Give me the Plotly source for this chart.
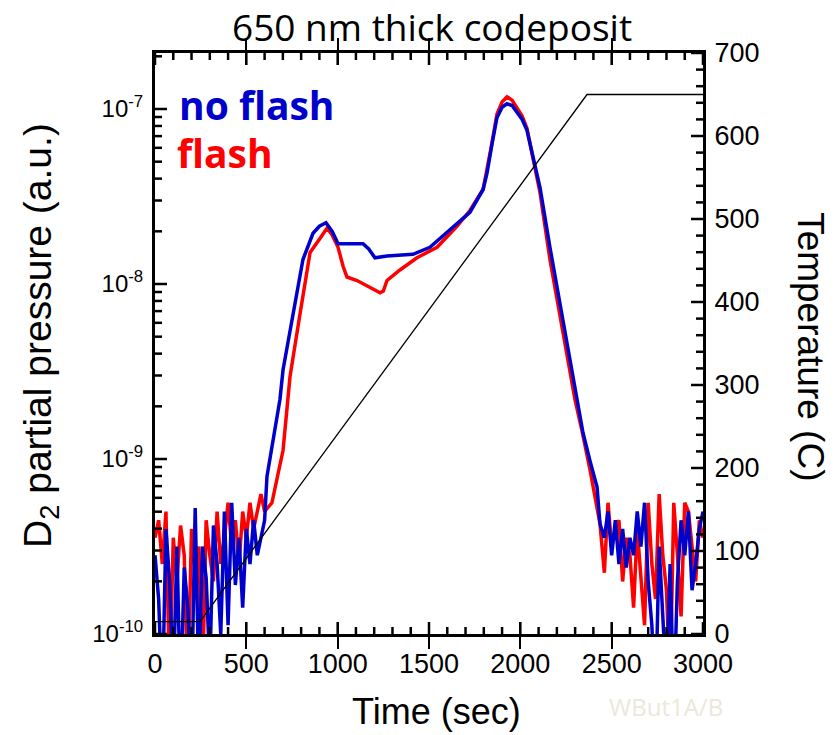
import plotly.graph_objects as go

# ---------------- data ----------------
# Time axis samples (s) and log10 of D2 partial pressure (a.u.)
t_noise_left = [0, 20, 40, 60, 80, 100, 120, 140, 160, 180, 200, 220, 240, 260, 280,
                300, 320, 340, 360, 380, 400, 420, 440, 460, 480, 500, 520, 540, 560, 580]
t_noise_right = [2460, 2480, 2500, 2520, 2540, 2560, 2580, 2600, 2620, 2640, 2660, 2680, 2700, 2720,
                 2740, 2760, 2780, 2800, 2820, 2840, 2860, 2880, 2900, 2920, 2940, 2960, 2980, 3000]

noflash_left = [-9.55, -9.80, -10.4, -9.40, -9.70, -10.3, -9.50, -10.4, -9.62, -9.85, -10.4, -9.28, -10.3, -9.50, -9.68,
                -10.2, -9.38, -9.60, -10.0, -9.30, -9.95, -9.25, -9.72, -9.45, -9.85, -9.40, -9.60, -9.35, -9.55, -9.45]
flash_left = [-9.45, -9.35, -9.60, -9.30, -10.3, -9.45, -9.70, -9.38, -9.55, -10.3, -9.40, -9.65, -9.50, -10.3, -9.35,
              -9.55, -9.70, -9.30, -9.60, -9.45, -9.25, -9.50, -9.35, -9.60, -9.30, -9.45, -9.25, -9.40, -9.30, -9.20]

noflash_right = [-9.45, -9.30, -9.55, -9.35, -9.60, -9.40, -9.62, -9.45, -9.55, -9.30, -9.50, -9.25, -9.70, -9.95,
                 -10.4, -9.50, -9.85, -10.3, -9.60, -10.4, -9.70, -9.35, -9.55, -9.30, -9.75, -9.60, -9.40, -9.30]
flash_right = [-9.65, -9.25, -9.50, -9.40, -9.35, -9.70, -9.45, -9.55, -9.85, -9.40, -9.70, -9.95, -9.25, -9.60,
               -9.80, -9.20, -9.55, -9.75, -10.3, -9.25, -9.55, -9.90, -9.25, -9.30, -9.50, -9.70, -9.35, -9.45]

t_noflash_main = [600, 613, 646, 684, 701, 755, 810, 865, 900, 936, 970, 1002, 1139, 1170, 1204, 1270, 1412,
                  1505, 1615, 1724, 1796, 1817, 1845, 1872, 1900, 1927, 1955, 1982, 2010, 2036, 2069, 2108,
                  2162, 2230, 2310, 2343, 2381, 2420, 2436]
noflash_main = [-9.35, -9.10, -8.89, -8.66, -8.49, -8.17, -7.86, -7.71, -7.67, -7.65, -7.70, -7.77, -7.77, -7.80,
                -7.85, -7.84, -7.83, -7.79, -7.69, -7.59, -7.46, -7.37, -7.20, -7.05, -6.99, -6.97, -6.98, -7.02,
                -7.06, -7.12, -7.27, -7.45, -7.79, -8.18, -8.66, -8.85, -9.01, -9.16, -9.37]

t_flash_main = [600, 640, 701, 739, 794, 849, 903, 942, 970, 1002, 1030, 1051, 1106, 1177, 1232, 1250, 1270,
                1341, 1434, 1544, 1653, 1724, 1796, 1840, 1872, 1900, 1927, 1955, 1982, 2010, 2036, 2070,
                2108, 2162, 2230, 2299, 2340, 2381, 2436]
flash_main = [-9.30, -9.25, -8.95, -8.53, -8.17, -7.82, -7.74, -7.68, -7.72, -7.79, -7.90, -7.96, -7.98, -8.02,
              -8.05, -8.04, -7.98, -7.92, -7.85, -7.79, -7.67, -7.58, -7.46, -7.22, -7.03, -6.96, -6.93, -6.95,
              -6.99, -7.04, -7.11, -7.28, -7.48, -7.86, -8.25, -8.66, -8.85, -9.06, -9.37]

# Temperature ramp (C)
t_temp = [0, 246, 2365, 3000]
temp = [15, 15, 650, 650]

# axis ranges and tick values
X_RANGE = [0, 3000]
P_RANGE = [-10, -6.68]          # log10 range of the pressure axis
T_RANGE = [0, 700]
x_tickvals = [0, 500, 1000, 1500, 2000, 2500, 3000]
p_tickvals = [1e-10, 1e-9, 1e-8, 1e-7]
p_ticktext = ["10<sup>-10</sup>", "10<sup>-9</sup>", "10<sup>-8</sup>", "10<sup>-7</sup>"]
t_tickvals = [0, 100, 200, 300, 400, 500, 600, 700]

# ---------------- build ----------------
t_noflash = t_noise_left + t_noflash_main + t_noise_right
p_noflash = [10 ** v for v in noflash_left + noflash_main + noflash_right]
t_flash = t_noise_left + t_flash_main + t_noise_right
p_flash = [10 ** v for v in flash_left + flash_main + flash_right]

BLUE = "#0000cc"
RED = "#ff0000"
ARIAL = "Liberation Sans, Arial, sans-serif"
XTICKFONT = dict(family=ARIAL, size=27, color="black")
YTICKFONT = dict(family=ARIAL, size=24, color="black")

# plot-area size in px (figure size minus margins) -> tick lengths in data units
W, H, ML, MR, MT, MB = 837, 735, 155, 134, 53, 101
PW, PH = W - ML - MR, H - MT - MB
sx = (X_RANGE[1] - X_RANGE[0]) / PW       # seconds per px
st = (T_RANGE[1] - T_RANGE[0]) / PH       # degrees per px
MAJ, MIN = 12, 7

x_minor = [v for v in range(0, 3001, 100) if v not in x_tickvals]
p_minor = [k * 10.0 ** e for e in range(-10, -6) for k in range(2, 10)]
t_minor = [v for v in range(0, 701, 20) if v not in t_tickvals]


def x_ticks(vals, ln):
    xs, ys = [], []
    for v in vals:
        xs += [v, v, None, v, v, None]
        ys += [T_RANGE[0], T_RANGE[0] + ln * st, None, T_RANGE[1], T_RANGE[1] - ln * st, None]
    return xs, ys


def left_ticks(vals, ln):
    xs, ys = [], []
    for v in vals:
        xs += [X_RANGE[0], X_RANGE[0] + ln * sx, None]
        ys += [v, v, None]
    return xs, ys


def right_ticks(vals, ln):
    xs, ys = [], []
    for v in vals:
        xs += [X_RANGE[1], X_RANGE[1] - ln * sx, None]
        ys += [v, v, None]
    return xs, ys


fig = go.Figure()
fig.add_trace(go.Scatter(x=t_flash, y=p_flash, mode="lines", line=dict(color=RED, width=3.5),
                         name="flash", showlegend=False))
fig.add_trace(go.Scatter(x=t_noflash, y=p_noflash, mode="lines", line=dict(color=BLUE, width=3.5),
                         name="no flash", showlegend=False))
fig.add_trace(go.Scatter(x=t_temp, y=temp, mode="lines", line=dict(color="black", width=1.3),
                         yaxis="y2", name="Temperature", showlegend=False))

# inward tick marks
for (fx, vals, ln, yax) in [(x_ticks, x_tickvals, MAJ, "y2"), (x_ticks, x_minor, MIN, "y2"),
                            (left_ticks, p_tickvals, MAJ, "y"), (left_ticks, p_minor, MIN, "y"),
                            (right_ticks, t_tickvals, MAJ, "y2"), (right_ticks, t_minor, MIN, "y2")]:
    xs, ys = fx(vals, ln)
    fig.add_trace(go.Scatter(x=xs, y=ys, mode="lines", yaxis=yax, line=dict(color="#000000", width=2.5),
                             connectgaps=False, hoverinfo="skip", showlegend=False))

fig.update_layout(
    template="none",
    width=W, height=H,
    margin=dict(l=ML, r=MR, t=MT, b=MB),
    paper_bgcolor="white", plot_bgcolor="white",
    showlegend=False,
    xaxis=dict(range=X_RANGE, tickvals=x_tickvals, ticks="inside", ticklen=MAJ, tickwidth=2,
               tickcolor="black", layer="above traces",
               showline=True, linewidth=3, linecolor="black", mirror="allticks",
               showgrid=False, zeroline=False, tickfont=XTICKFONT, ticklabelstandoff=4),
    yaxis=dict(type="log", range=P_RANGE, tickvals=p_tickvals, ticktext=p_ticktext,
               ticks="inside", ticklen=MAJ, tickwidth=2, tickcolor="black", layer="above traces",
               showline=True, linewidth=3, linecolor="black",
               showgrid=False, zeroline=False, tickfont=YTICKFONT, ticklabelstandoff=4),
    yaxis2=dict(overlaying="y", side="right", range=T_RANGE, tickvals=t_tickvals,
                ticks="inside", ticklen=MAJ, tickwidth=2, tickcolor="black", layer="above traces",
                showline=True, linewidth=3, linecolor="black",
                showgrid=False, zeroline=False, tickfont=XTICKFONT, ticklabelstandoff=3),
    annotations=[
        dict(text="650 nm thick codeposit", xref="paper", yref="paper", x=0.505, y=1.0, yshift=27,
             xanchor="center", yanchor="middle", showarrow=False,
             font=dict(family="Open Sans, sans-serif", size=37, color="black")),
        dict(text="<b>no flash</b>", xref="paper", yref="paper", x=0.04, y=0.9105, xanchor="left",
             yanchor="middle", showarrow=False, font=dict(family="Open Sans, sans-serif", size=39, color=BLUE)),
        dict(text="<b>flash</b>", xref="paper", yref="paper", x=0.037, y=0.828, xanchor="left",
             yanchor="middle", showarrow=False, font=dict(family="Open Sans, sans-serif", size=39, color=RED)),
        dict(text="D<sub>2</sub> partial pressure (a.u.)", xref="paper", yref="paper", x=-0.208, y=0.513,
             xanchor="center", yanchor="middle", textangle=-90, showarrow=False,
             font=dict(family=ARIAL, size=39, color="black")),
        dict(text="Temperature (C)", xref="paper", yref="paper", x=1.195, y=0.494,
             xanchor="center", yanchor="middle", textangle=90, showarrow=False,
             font=dict(family=ARIAL, size=37, color="black")),
        dict(text="Time (sec)", xref="paper", yref="paper", x=0.513, y=-0.134,
             xanchor="center", yanchor="middle", showarrow=False,
             font=dict(family=ARIAL, size=36, color="black")),
        dict(text="WBut1A/B", xref="paper", yref="paper", x=0.9325, y=-0.124,
             xanchor="center", yanchor="middle", showarrow=False,
             font=dict(family="Open Sans, sans-serif", size=24, color="#ebe8da")),
    ],
)

fig.write_html("out.html")
